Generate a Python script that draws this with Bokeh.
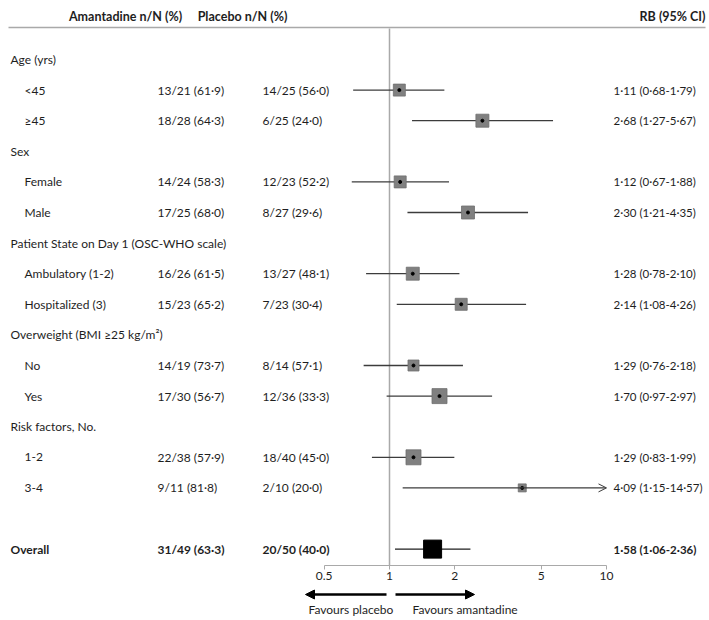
import numpy as np
from bokeh.plotting import figure
from bokeh.models import ColumnDataSource, Range1d, FixedTicker, Arrow, NormalHead, OpenHead
from bokeh.core.properties import value
from bokeh.embed import file_html
from bokeh.resources import INLINE

# ---------------- data ----------------
headings = ["Age (yrs)", "Sex", "Patient State on Day 1 (OSC-WHO scale)",
            "Overweight (BMI \u226525 kg/m\u00b2)", "Risk factors, No."]
heading_rows = [0, 3, 6, 9, 12]

subgroups = ["<45", "\u226545", "Female", "Male", "Ambulatory (1-2)", "Hospitalized (3)",
             "No", "Yes", "1-2", "3-4"]
sub_rows = [1, 2, 4, 5, 7, 8, 10, 11, 13, 14]
amantadine = ["13/21 (61\u00b79)", "18/28 (64\u00b73)", "14/24 (58\u00b73)", "17/25 (68\u00b70)",
              "16/26 (61\u00b75)", "15/23 (65\u00b72)", "14/19 (73\u00b77)", "17/30 (56\u00b77)",
              "22/38 (57\u00b79)", "9/11 (81\u00b78)"]
placebo = ["14/25 (56\u00b70)", "6/25 (24\u00b70)", "12/23 (52\u00b72)", "8/27 (29\u00b76)",
           "13/27 (48\u00b71)", "7/23 (30\u00b74)", "8/14 (57\u00b71)", "12/36 (33\u00b73)",
           "18/40 (45\u00b70)", "2/10 (20\u00b70)"]
rb = [1.11, 2.68, 1.12, 2.30, 1.28, 2.14, 1.29, 1.70, 1.29, 4.09]
lo = [0.68, 1.27, 0.67, 1.21, 0.78, 1.08, 0.76, 0.97, 0.83, 1.15]
hi = [1.79, 5.67, 1.88, 4.35, 2.10, 4.26, 2.18, 2.97, 1.99, 14.57]
weight = [12, 13, 12, 13, 13, 12, 11, 15, 15, 8]

overall_label = "Overall"
overall_row = 16
overall_amantadine = "31/49 (63\u00b73)"
overall_placebo = "20/50 (40\u00b70)"
overall_rb, overall_lo, overall_hi = 1.58, 1.06, 2.36
overall_weight = 18

ticks = [0.5, 1, 2, 5, 10]
tick_labels = ["0.5", "1", "2", "5", "10"]
axis_max = 10

# ---------------- layout ----------------
W, H = 708, 618
ONE_PX, DECADE_PX = 389.0, 217.0      # screen px of RB=1, px per decade
ROW0_PX, ROW_PX = 59.0, 30.6          # screen px of row 0, px per row


def xv(px):
    return 10 ** ((px - ONE_PX) / DECADE_PX)


def yv(px):
    return (px - ROW0_PX) / ROW_PX


def fmt(v):
    return f"{v:.2f}".replace(".", "\u00b7")


FONT = value("Lato")
FS = "12px"
FS_RB = "11.5px"
TXT = "#1e1e1e"

p = figure(width=W, height=H, x_axis_type="log",
           x_range=Range1d(xv(0), xv(W)), y_range=Range1d(yv(H), yv(0)),
           output_backend="svg", toolbar_location=None, y_axis_location=None,
           min_border=0, outline_line_color=None)
p.grid.visible = False
p.background_fill_color = "white"
p.border_fill_color = "white"

# header
p.text(x=[xv(125), xv(242)], y=[yv(16)] * 2, text=["Amantadine n/N (%)", "Placebo n/N (%)"],
       text_font=FONT, text_font_size="12.5px", text_font_style="bold", text_align="center",
       text_baseline="middle", text_color=TXT)
p.text(x=[xv(705)], y=[yv(16)], text=["RB (95% CI)"], text_font=FONT, text_font_size="12.5px",
       text_font_style="bold", text_align="right", text_baseline="middle", text_color=TXT)
p.segment(x0=[xv(8)], x1=[xv(705)], y0=[yv(27)], y1=[yv(27)], line_color="#a9a9a9", line_width=1.5)

AXIS_Y = yv(565)
# reference line at 1
p.segment(x0=[1], x1=[1], y0=[yv(28)], y1=[AXIS_Y], line_color="#a9a9a9", line_width=1.5)

# headings
p.text(x=[xv(10)] * len(headings), y=heading_rows, text=headings, text_font=FONT,
       text_font_size=FS, text_baseline="middle", text_color=TXT)

# subgroup rows
src = ColumnDataSource(dict(
    y=sub_rows, label=subgroups, am=amantadine, pl=placebo, rb=rb, lo=lo,
    size=weight,
    rbtxt=[f"{fmt(r)} ({fmt(a)}-{fmt(b)})" for r, a, b in zip(rb, lo, hi)],
))
p.text(x=xv(24), y="y", text="label", source=src, text_font=FONT, text_font_size=FS,
       text_baseline="middle", text_color=TXT)
p.text(x=xv(157), y="y", text="am", source=src, text_font=FONT, text_font_size=FS,
       text_baseline="middle", text_color=TXT)
p.text(x=xv(262), y="y", text="pl", source=src, text_font=FONT, text_font_size=FS,
       text_baseline="middle", text_color=TXT)
p.text(x=xv(613), y="y", text="rbtxt", source=src, text_font=FONT, text_font_size=FS_RB,
       text_baseline="middle", text_color=TXT)

inside = [i for i, h in enumerate(hi) if h <= axis_max]
outside = [i for i, h in enumerate(hi) if h > axis_max]
p.segment(x0=[lo[i] for i in inside], x1=[hi[i] for i in inside],
          y0=[sub_rows[i] for i in inside], y1=[sub_rows[i] for i in inside],
          line_color="#3c3c3c", line_width=1.3)
if outside:
    asrc = ColumnDataSource(dict(x0=[lo[i] for i in outside], x1=[axis_max] * len(outside),
                                 y=[sub_rows[i] for i in outside]))
    p.add_layout(Arrow(end=OpenHead(size=8, line_width=1, line_color="#3c3c3c"),
                       x_start="x0", y_start="y", x_end="x1", y_end="y", source=asrc,
                       line_color="#3c3c3c", line_width=1.3))

p.scatter(x="rb", y="y", size="size", marker="square", source=src,
          fill_color="#808080", line_color="#6e6e6e", line_width=0.8)
p.scatter(x="rb", y="y", size=3, source=src, color="black")

# overall
p.text(x=[xv(10)], y=[overall_row], text=[overall_label], text_font=FONT, text_font_size=FS,
       text_font_style="bold", text_baseline="middle", text_color=TXT)
p.text(x=[xv(157)], y=[overall_row], text=[overall_amantadine], text_font=FONT, text_font_size=FS,
       text_font_style="bold", text_baseline="middle", text_color=TXT)
p.text(x=[xv(262)], y=[overall_row], text=[overall_placebo], text_font=FONT, text_font_size=FS,
       text_font_style="bold", text_baseline="middle", text_color=TXT)
p.text(x=[xv(613)], y=[overall_row],
       text=[f"{fmt(overall_rb)} ({fmt(overall_lo)}-{fmt(overall_hi)})"], text_font=FONT,
       text_font_size=FS_RB, text_font_style="bold", text_baseline="middle", text_color=TXT)
p.segment(x0=[overall_lo], x1=[overall_hi], y0=[overall_row], y1=[overall_row],
          line_color="#1e1e1e", line_width=1.3)
p.scatter(x=[overall_rb], y=[overall_row], size=overall_weight, marker="square", color="black")

# favours arrows
fsrc = ColumnDataSource(dict(x0=[xv(386), xv(395)], x1=[xv(305), xv(474)], y=[yv(594)] * 2))
p.add_layout(Arrow(end=NormalHead(size=9, fill_color="black", line_color="black"),
                   x_start="x0", y_start="y", x_end="x1", y_end="y", source=fsrc,
                   line_color="black", line_width=2.5))
p.text(x=[xv(308), xv(412)], y=[yv(609)] * 2, text=["Favours placebo", "Favours amantadine"],
       text_font=FONT, text_font_size=FS, text_baseline="middle", text_color=TXT)

# axis
ax = p.xaxis[0]
ax.fixed_location = AXIS_Y
ax.ticker = FixedTicker(ticks=ticks)
ax.bounds = (min(ticks), max(ticks))
ax.major_label_overrides = {t: l for t, l in zip(ticks, tick_labels)}
ax.minor_tick_line_color = None
ax.major_tick_in = 0
ax.major_tick_out = 4
ax.axis_line_color = "#a9a9a9"
ax.major_tick_line_color = "#a9a9a9"
ax.major_label_text_font = "Lato"
ax.major_label_text_font_size = FS
ax.major_label_text_color = TXT
ax.major_label_standoff = 2

open("out.html", "w").write(file_html(p, INLINE))
